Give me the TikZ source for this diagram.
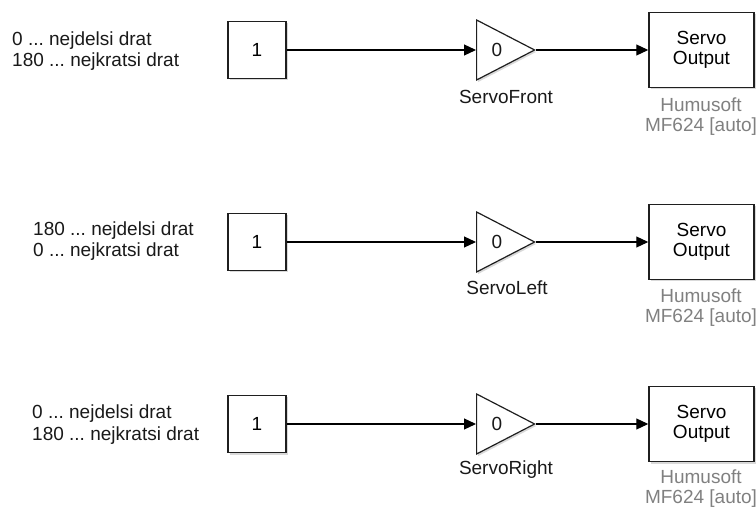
\documentclass[tikz,border=0pt]{standalone}
\usepackage{fontspec}
\setmainfont{Liberation Sans}
\usetikzlibrary{arrows.meta,shadows,shapes.geometric}
\frenchspacing
\begin{document}
\begin{tikzpicture}[x=1pt,y=-1pt,
  font=\fontsize{19}{21.5}\selectfont,
  blk/.style={draw=black!88, line width=1.5pt, fill=white, inner sep=0pt,
    drop shadow={shadow xshift=1.5pt, shadow yshift=-2pt, opacity=0.3}},
  constblk/.style={blk, minimum width=58pt, minimum height=57pt},
  servoblk/.style={blk, minimum width=105pt, minimum height=75pt, align=center,
    font=\fontsize{19}{19.5}\selectfont},
  gainblk/.style={blk, line width=1.2pt, shape=isosceles triangle,
    isosceles triangle stretches, minimum width=60pt, minimum height=58pt, anchor=west},
  sig/.style={line width=1.2pt, -{Triangle[length=12pt,width=11pt]}},
  note/.style={align=left, anchor=west, inner sep=0pt, text=black!90},
  hw/.style={text=black!50, align=center, inner sep=0pt,
    font=\fontsize{19}{20}\selectfont},
  gname/.style={inner sep=0pt, text=black!90},
]
\useasboundingbox (0,0) rectangle (756,513);

% row 1: front servo
\node[note] (n1) at (12,51) {0 ... nejdelsi drat\\180 ... nejkratsi drat};
\node[constblk] (c1) at (257,50) {1};
\node[gainblk] (g1) at (476,50) {};
\node[gname] (g1v) at ([xshift=21pt]g1.west) {0};
\node[gname] (g1n) at (506,97) {ServoFront};
\node[servoblk] (s1) at (701.5,50) {Servo\\Output};
\node[hw] (h1) at (701,117) {Humusoft\\MF624 [auto]};
\draw[sig] (c1.east) -- (g1.west);
\draw[sig] (g1.apex) -- (s1.west);

% row 2: left servo
\node[note] (n2) at (33,241) {180 ... nejdelsi drat\\0 ... nejkratsi drat};
\node[constblk] (c2) at (257,242) {1};
\node[gainblk] (g2) at (476,242) {};
\node[gname] (g2v) at ([xshift=21pt]g2.west) {0};
\node[gname] (g2n) at (507,288) {ServoLeft};
\node[servoblk] (s2) at (701.5,242) {Servo\\Output};
\node[hw] (h2) at (701,308) {Humusoft\\MF624 [auto]};
\draw[sig] (c2.east) -- (g2.west);
\draw[sig] (g2.apex) -- (s2.west);

% row 3: right servo
\node[note] (n3) at (32,424.5) {0 ... nejdelsi drat\\180 ... nejkratsi drat};
\node[constblk] (c3) at (257,424) {1};
\node[gainblk] (g3) at (476,424) {};
\node[gname] (g3v) at ([xshift=21pt]g3.west) {0};
\node[gname] (g3n) at (506,470) {ServoRight};
\node[servoblk] (s3) at (701.5,424) {Servo\\Output};
\node[hw] (h3) at (701,489) {Humusoft\\MF624 [auto]};
\draw[sig] (c3.east) -- (g3.west);
\draw[sig] (g3.apex) -- (s3.west);
\end{tikzpicture}
\end{document}
